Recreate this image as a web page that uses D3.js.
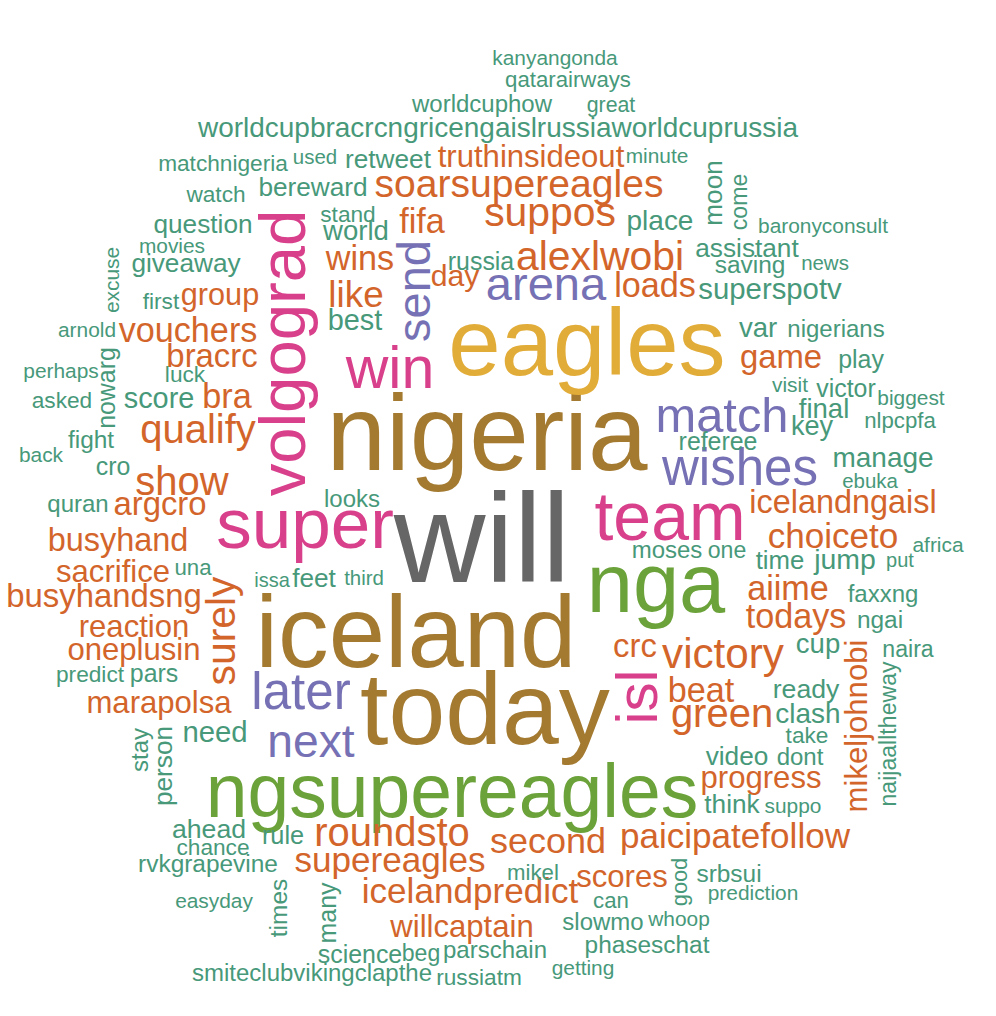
<!DOCTYPE html>
<html>
<head>
<meta charset="utf-8">
<script src="https://cdn.jsdelivr.net/npm/d3@7/dist/d3.min.js"></script>
<style>
  html, body { margin: 0; padding: 0; background: #ffffff; }
  svg { display: block; }
</style>
</head>
<body>
<svg id="chart"></svg>
<script>
// ---- data: words and their (estimated) frequencies ----
const words = [
  "will","nigeria","iceland","today","eagles","nga","ngsupereagles","super","team","volgograd",
  "win","isl","match","wishes","later","next","arena","send","truthinsideout","soarsupereagles",
  "fifa","suppos","alexlwobi","day","wins","like","group","vouchers","bracrc","bra",
  "qualify","show","loads","game","argcro","busyhand","sacrifice","busyhandsng","surely","reaction",
  "oneplusin","marapolsa","icelandngaisl","choiceto","aiime","todays","crc","victory","mikeljohnobi","beat",
  "green","progress","paicipatefollow","second","scores","icelandpredict","willcaptain","roundsto","supereagles","kanyangonda",
  "qatarairways","worldcuphow","great","worldcupbracrcngricengaislrussiaworldcuprussia","matchnigeria","used","retweet","minute","watch","bereward",
  "question","stand","world","place","moon","come","baronyconsult","assistant","saving","news",
  "russia","best","excuse","movies","giveaway","first","arnold","perhaps","luck","nowarg",
  "asked","score","fight","back","cro","superspotv","var","nigerians","play","visit",
  "victor","biggest","final","nlpcpfa","key","referee","manage","ebuka","moses","one",
  "time","jump","put","africa","faxxng","ngai","cup","naira","naijaalltheway","ready",
  "clash","take","video","dont","think","suppo","mikel","good","srbsui","prediction",
  "can","slowmo","whoop","parschain","phaseschat","getting","russiatm","stay","person","need",
  "ahead","chance","rule","rvkgrapevine","easyday","times","many","science","beg","smiteclubvikingclapthe",
  "quran","looks","una","issa","feet","third","predict","pars"
];
const counts = [
  250,205,192,194,176,151,133,124,117,111,
  97,95,74,79,79,68,70,70,34,52,
  41,56,56,32,41,47,33,41,38,41,
  54,54,41,38,38,37,34,38,56,34,
  34,34,37,43,41,41,38,59,34,41,
  54,34,43,45,34,43,34,54,43,11,
  14,18,12,27,15,10,23,11,15,23,
  23,15,26,27,23,16,11,23,19,10,
  20,29,11,11,23,15,11,11,15,20,
  15,29,19,11,20,30,26,18,20,11,
  20,11,26,14,25,20,27,10,18,16,
  22,28,9,11,18,19,26,16,16,24,
  27,15,23,18,23,11,14,13,19,11,
  14,18,11,18,19,11,15,18,23,30,
  24,15,21,19,11,19,20,20,16,18,
  18,18,14,9,23,10,15,20
];

// ---- cloud layout (result of the word-cloud placement) ----
const cloudX = [
  482,487,416,485,587,656,452,305,670,305,
  390,657,722,740,301,311,546,430,531,519,
  422,550,600,455,360,356,220,188,212,227,
  198,182,655,781,160,118,113,104,235,134,
  134,159,843,833,788,796,635,723,867,701,
  722,761,735,548,622,470,462,392,390,555,
  568,482,611,498,223,315,388,657,216,313,
  203,348,356,660,722,747,823,747,750,825,
  481,355,119,172,186,161,87,61,185,115,
  62,159,91,41,113,770,758,836,861,790,
  846,911,824,900,812,718,883,870,667,727,
  780,845,900,938,883,880,818,908,896,806,
  808,807,737,800,732,793,533,687,729,753,
  611,603,679,495,647,583,479,148,172,215,
  209,213,283,208,214,287,336,360,421,312,
  78,352,193,272,314,364,90,154
];
const cloudY = [
  582,470,667,744,375,612,817,548,540,353,
  388,697,432,485,709,757,300,291,167,197,
  233,226,270,286,270,307,305,342,367,408,
  443,495,297,368,515,551,582,607,631,637,
  660,713,513,548,600,628,657,668,726,702,
  727,788,848,853,887,903,937,846,872,65,
  87,112,112,137,171,164,168,163,202,196,
  233,222,240,230,193,202,233,257,273,270,
  270,330,280,253,272,309,337,378,382,388,
  408,408,448,462,475,299,337,337,368,392,
  397,405,418,428,435,450,467,488,558,558,
  569,569,567,552,602,628,653,657,734,698,
  723,743,765,765,813,813,880,882,882,900,
  908,930,926,958,953,975,985,750,766,742,
  838,855,844,872,908,908,913,963,961,981,
  512,507,575,587,587,585,682,682
];
// 1 = word set vertically (reading upwards)
const turned = [
  0,0,0,0,0,0,0,0,0,1,
  0,1,0,0,0,0,0,1,0,0,
  0,0,0,0,0,0,0,0,0,0,
  0,0,0,0,0,0,0,0,1,0,
  0,0,0,0,0,0,0,0,1,0,
  0,0,0,0,0,0,0,0,0,0,
  0,0,0,0,0,0,0,0,0,0,
  0,0,0,0,1,1,0,0,0,0,
  0,0,1,0,0,0,0,0,0,1,
  0,0,0,0,0,0,0,0,0,0,
  0,0,0,0,0,0,0,0,0,0,
  0,0,0,0,0,0,0,0,1,0,
  0,0,0,0,0,0,0,1,0,0,
  0,0,0,0,0,0,0,1,1,0,
  0,0,0,0,0,1,1,0,0,0,
  0,0,0,0,0,0,0,0
];

const palette = ["#47997a","#d3652b","#7671b4","#d9408c","#6ba23a","#e2ac38","#a47a31","#666666"];

// ---- drawing ----
const W = 996, H = 1016;
const svg = d3.select("#chart").attr("width", W).attr("height", H);
svg.append("rect").attr("width", W).attr("height", H).attr("fill", "#ffffff");

const x = d3.scaleLinear().domain([0, 996]).range([0, W]);
const y = d3.scaleLinear().domain([0, 1016]).range([0, H]);
const size = d3.scaleLinear().domain([0, 250]).range([16, 127]);
const color = d3.scaleQuantize().domain([0, 250]).range(palette);

const data = words.map((w, i) => ({
  text: w, count: counts[i], cx: cloudX[i], cy: cloudY[i], rot: turned[i] ? -90 : 0
}));

svg.append("g")
  .selectAll("text")
  .data(data)
  .join("text")
  .attr("transform", d => `translate(${x(d.cx)},${y(d.cy)}) rotate(${d.rot})`)
  .attr("text-anchor", "middle")
  .attr("font-family", "'Liberation Sans', Arial, Helvetica, sans-serif")
  .attr("font-size", d => size(d.count) + "px")
  .attr("fill", d => color(d.count))
  .text(d => d.text);
</script>
</body>
</html>
